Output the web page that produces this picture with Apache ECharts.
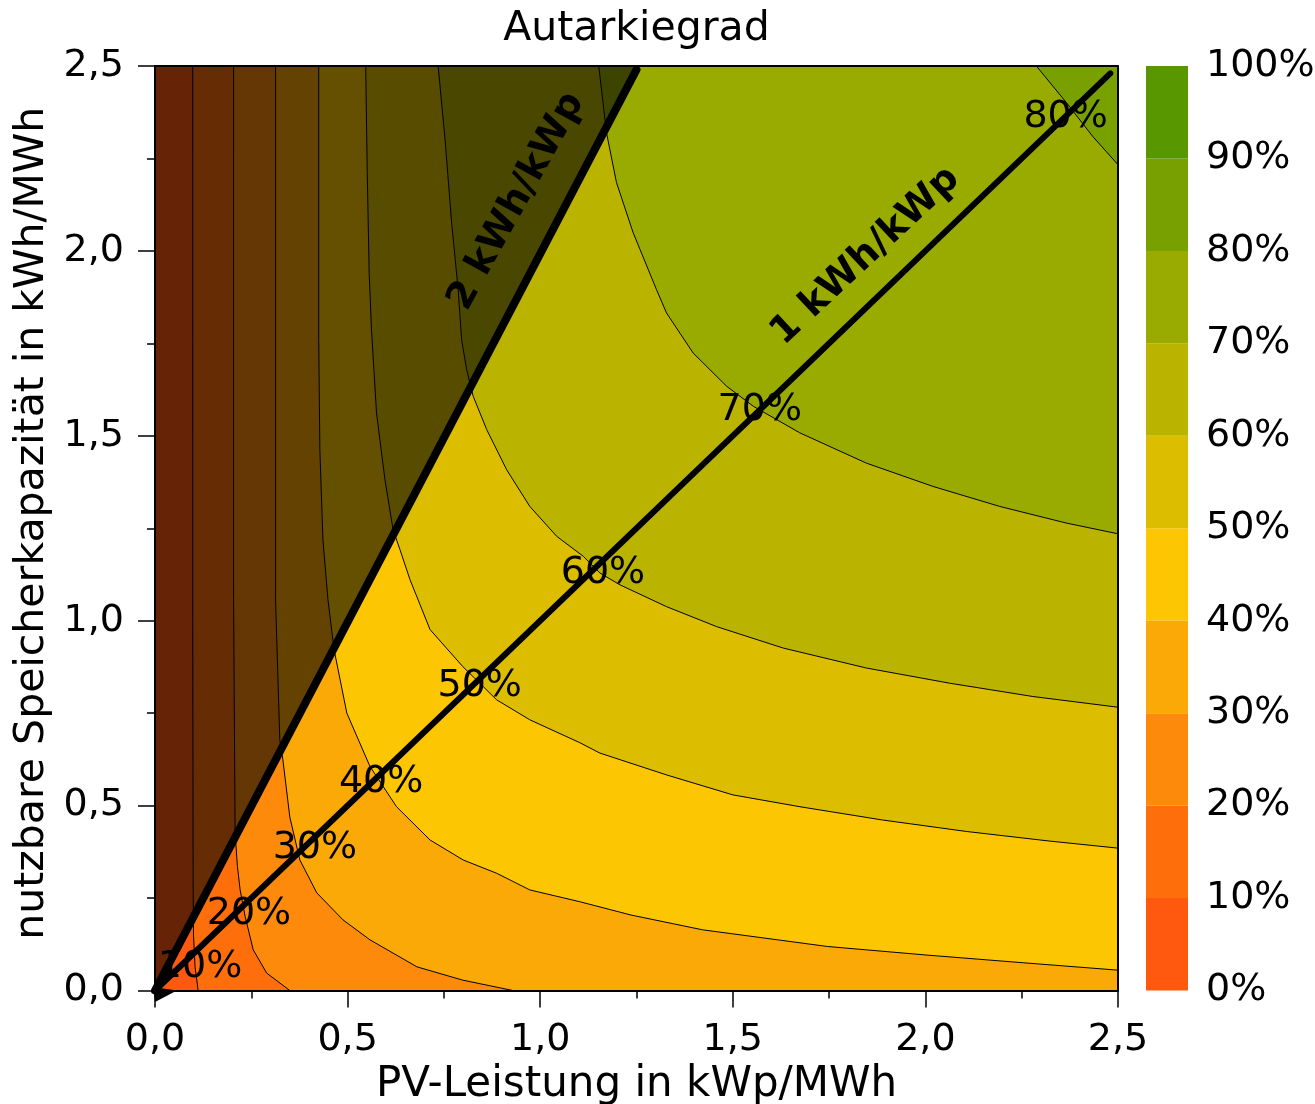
<!DOCTYPE html>
<html>
<head>
<meta charset="utf-8">
<title>Autarkiegrad</title>
<script src="https://cdn.jsdelivr.net/npm/echarts@6/dist/echarts.min.js"></script>
<style>
  html, body { margin: 0; padding: 0; background: #fff; }
  #chart { width: 1315px; height: 1104px; }
</style>
</head>
<body>
<div id="chart"></div>
<script>
// Achsenbereich
const xMax = 2.5;
const yMax = 2.5;

// Farbstufen 0..100 % (Farbskala)
const cbTicks = [0, 10, 20, 30, 40, 50, 60, 70, 80, 90, 100];
const bandColors = ['#fe590e', '#fe6f0c', '#fd8a0a', '#fba906', '#fdc602',
                    '#dcbd00', '#bab300', '#9aab00', '#78a100', '#589700'];

// Isolinien [PV-Leistung, Speicherkapazität], jeweils vom oberen Rand bis zum unteren/rechten Rand
const contour10 = [[0.098, 2.5], [0.098, 1.0], [0.099, 0.3], [0.100, 0.15], [0.104, 0.064], [0.112, 0]];
const contour20 = [[0.204, 2.5], [0.204, 1.057], [0.208, 0.426], [0.214, 0.335], [0.221, 0.272],
                   [0.234, 0.200], [0.255, 0.110], [0.290, 0.047], [0.350, 0]];
const contour30 = [[0.313, 2.5], [0.313, 1.057], [0.324, 0.678], [0.332, 0.624], [0.350, 0.469],
                   [0.376, 0.353], [0.420, 0.264], [0.488, 0.191], [0.558, 0.137], [0.680, 0.064],
                   [0.799, 0.028], [0.929, 0]];
const contour40 = [[0.425, 2.5], [0.425, 1.760], [0.428, 1.462], [0.436, 1.219], [0.449, 1.057],
                   [0.465, 0.921], [0.498, 0.750], [0.558, 0.606], [0.627, 0.497], [0.714, 0.407],
                   [0.800, 0.353], [0.887, 0.317], [0.973, 0.272], [1.103, 0.240], [1.236, 0.204],
                   [1.422, 0.164], [1.746, 0.119], [2.001, 0.096], [2.254, 0.075], [2.5, 0.055]];
const contour50 = [[0.547, 2.5], [0.551, 2.212], [0.556, 1.941], [0.562, 1.787], [0.575, 1.562],
                   [0.597, 1.381], [0.618, 1.246], [0.636, 1.192], [0.662, 1.111], [0.714, 0.976],
                   [0.799, 0.876], [0.887, 0.786], [0.973, 0.732], [1.103, 0.670], [1.155, 0.642],
                   [1.328, 0.583], [1.500, 0.529], [1.674, 0.497], [1.889, 0.461], [2.107, 0.430],
                   [2.323, 0.404], [2.5, 0.385]];
const contour60 = [[0.735, 2.5], [0.753, 2.301], [0.770, 2.077], [0.787, 1.895], [0.796, 1.760],
                   [0.809, 1.679], [0.826, 1.607], [0.861, 1.517], [0.913, 1.408], [0.973, 1.309],
                   [1.043, 1.228], [1.112, 1.174], [1.155, 1.129], [1.207, 1.097], [1.328, 1.038],
                   [1.458, 0.984], [1.631, 0.926], [1.847, 0.872], [2.063, 0.831], [2.279, 0.795],
                   [2.5, 0.766]];
const contour70 = [[1.152, 2.5], [1.172, 2.320], [1.198, 2.185], [1.241, 2.050], [1.302, 1.895],
                   [1.328, 1.832], [1.397, 1.724], [1.484, 1.634], [1.553, 1.580], [1.674, 1.508],
                   [1.847, 1.426], [2.020, 1.363], [2.193, 1.309], [2.366, 1.264], [2.5, 1.235]];
const contour80 = [[2.288, 2.5], [2.366, 2.401], [2.434, 2.310], [2.5, 2.233]];
const contours = [contour10, contour20, contour30, contour40, contour50, contour60, contour70, contour80];

// Beschriftung der Isolinien [x, y, Text]
const contourLabels = [
    [0.117, 0.064, '10%'], [0.244, 0.207, '20%'], [0.415, 0.386, '30%'], [0.587, 0.564, '40%'],
    [0.843, 0.824, '50%'], [1.163, 1.130, '60%'], [1.570, 1.570, '70%'], [2.364, 2.361, '80%']
];

// Verhältnislinien Speicher/PV
const ratio1 = [[0, 0], [2.48, 2.48]];
const ratio2 = [[0, 0], [1.25, 2.49]];
const ratio1Label = [[1.845, 1.986, '1 kWh/kWp']];
const ratio2Label = [[0.939, 2.134, '2 kWh/kWp']];
// Bereich oberhalb von 2 kWh/kWp (abgedunkelt)
const darkRegion = [[0, 0], [1.25, 2.5], [0, 2.5]];
const originMark = [[0, 0]];

const font = 'DejaVu Sans';
const fmtComma = v => v.toFixed(1).replace('.', ',');

let chart = echarts.init(document.getElementById('chart'));

const axisLine = { show: true, onZero: false, lineStyle: { color: '#000', width: 2 } };

// Farbskala als gestapelte Balken
const colorbarSeries = bandColors.map((c, i) => ({
    type: 'bar',
    xAxisIndex: 2,
    yAxisIndex: 2,
    stack: 'cb',
    barWidth: '100%',
    silent: true,
    data: [cbTicks[i + 1] - cbTicks[i]],
    itemStyle: { color: c }
}));

chart.setOption({
    animation: false,
    textStyle: { fontFamily: font },
    grid: [
        { left: 155, top: 66, width: 963, height: 924.5, show: true, backgroundColor: bandColors[0],
          borderWidth: 0, containLabel: false, outerBoundsMode: 'none' },
        { left: 1146, top: 66, width: 42, height: 924.5, containLabel: false, outerBoundsMode: 'none' }
    ],
    xAxis: [
        {
            gridIndex: 0, type: 'value', min: 0, max: xMax, interval: 0.5, position: 'bottom',
            name: 'PV-Leistung in kWp/MWh', nameLocation: 'middle', nameGap: 71,
            nameTextStyle: { fontSize: 42, color: '#000', fontFamily: font },
            axisLine: axisLine,
            axisTick: { show: true, length: 17, lineStyle: { color: '#000', width: 1.5 } },
            minorTick: { show: true, splitNumber: 2, length: 8, lineStyle: { color: '#000', width: 1.5 } },
            axisLabel: { fontSize: 38, color: '#000', margin: 31, formatter: fmtComma },
            splitLine: { show: false },
            z: 10
        },
        {
            gridIndex: 0, type: 'value', min: 0, max: xMax, position: 'top',
            name: 'Autarkiegrad', nameLocation: 'middle', nameGap: 16,
            nameTextStyle: { fontSize: 41, color: '#000', fontFamily: font },
            axisLine: axisLine, axisTick: { show: false }, axisLabel: { show: false },
            splitLine: { show: false }, z: 10
        },
        { gridIndex: 1, type: 'category', data: ['cb'], show: false }
    ],
    yAxis: [
        {
            gridIndex: 0, type: 'value', min: 0, max: yMax, interval: 0.5, position: 'left',
            name: 'nutzbare Speicherkapazität in kWh/MWh', nameLocation: 'middle', nameGap: 98,
            nameTextStyle: { fontSize: 41, color: '#000', fontFamily: font, padding: [0, 0, 0, 10] },
            axisLine: axisLine,
            axisTick: { show: true, length: 17, lineStyle: { color: '#000', width: 1.5 } },
            minorTick: { show: true, splitNumber: 2, length: 8, lineStyle: { color: '#000', width: 1.5 } },
            axisLabel: { fontSize: 38, color: '#000', margin: 31, formatter: fmtComma },
            splitLine: { show: false },
            z: 10
        },
        {
            gridIndex: 0, type: 'value', min: 0, max: yMax, position: 'right',
            axisLine: axisLine, axisTick: { show: false }, axisLabel: { show: false },
            splitLine: { show: false }, z: 10
        },
        {
            gridIndex: 1, type: 'value', min: 0, max: 100, interval: 10, position: 'right',
            axisLine: { show: false }, axisTick: { show: false }, splitLine: { show: false },
            axisLabel: { fontSize: 38, color: '#000', margin: 18, padding: [6, 0, 0, 0], formatter: '{value}%' }
        }
    ],
    series: [
        // Flächen oberhalb der jeweiligen Isolinie
        {
            type: 'custom', xAxisIndex: 0, yAxisIndex: 0, silent: true, z: 1,
            data: contours.map(c => c[0]),
            renderItem: (params, api) => {
                const line = contours[params.dataIndex];
                const pts = line.slice();
                if (line[line.length - 1][1] === 0) pts.push([xMax, 0]);
                pts.push([xMax, yMax]);
                return {
                    type: 'polygon',
                    shape: { points: pts.map(p => api.coord(p)) },
                    style: { fill: bandColors[params.dataIndex + 1] }
                };
            }
        },
        // Abdunklung oberhalb 2 kWh/kWp
        {
            type: 'custom', xAxisIndex: 0, yAxisIndex: 0, silent: true, z: 2,
            data: [darkRegion[0]],
            renderItem: (params, api) => ({
                type: 'polygon',
                shape: { points: darkRegion.map(p => api.coord(p)) },
                style: { fill: 'rgba(0,0,0,0.6)' }
            })
        },
        // Isolinien
        {
            type: 'custom', xAxisIndex: 0, yAxisIndex: 0, silent: true, z: 3,
            data: contours.map(c => c[0]),
            renderItem: (params, api) => ({
                type: 'polyline',
                shape: { points: contours[params.dataIndex].map(p => api.coord(p)) },
                style: { stroke: '#000', lineWidth: 1, fill: null }
            })
        },
        {
            type: 'scatter', xAxisIndex: 0, yAxisIndex: 0, silent: true, z: 4,
            symbolSize: 0, itemStyle: { opacity: 1 },
            data: contourLabels,
            label: {
                show: true, position: 'inside', color: '#000', fontSize: 38, fontFamily: font,
                formatter: p => p.data[2]
            }
        },
        {
            type: 'line', xAxisIndex: 0, yAxisIndex: 0, silent: true, z: 5, clip: false,
            data: ratio1, showSymbol: false, symbol: 'none',
            lineStyle: { color: '#000', width: 6, cap: 'round' }
        },
        {
            type: 'line', xAxisIndex: 0, yAxisIndex: 0, silent: true, z: 5, clip: false,
            data: ratio2, showSymbol: false, symbol: 'none',
            lineStyle: { color: '#000', width: 8, cap: 'round' }
        },
        {
            type: 'scatter', xAxisIndex: 0, yAxisIndex: 0, silent: true, z: 6, clip: false,
            data: originMark,
            symbol: 'path://M0,0L24,3.5L2,15Z', symbolSize: [24, 15], symbolOffset: [10, 4],
            itemStyle: { color: '#000', opacity: 1 }
        },
        {
            type: 'scatter', xAxisIndex: 0, yAxisIndex: 0, silent: true, z: 6,
            symbolSize: 0, itemStyle: { opacity: 1 }, data: ratio2Label,
            label: {
                show: true, position: 'inside', color: '#000', fontSize: 38, fontWeight: 'bold',
                fontFamily: font, rotate: 61, formatter: p => p.data[2]
            }
        },
        {
            type: 'scatter', xAxisIndex: 0, yAxisIndex: 0, silent: true, z: 6,
            symbolSize: 0, itemStyle: { opacity: 1 }, data: ratio1Label,
            label: {
                show: true, position: 'inside', color: '#000', fontSize: 38, fontWeight: 'bold',
                fontFamily: font, rotate: 43, formatter: p => p.data[2]
            }
        }
    ].concat(colorbarSeries)
});
</script>
</body>
</html>
